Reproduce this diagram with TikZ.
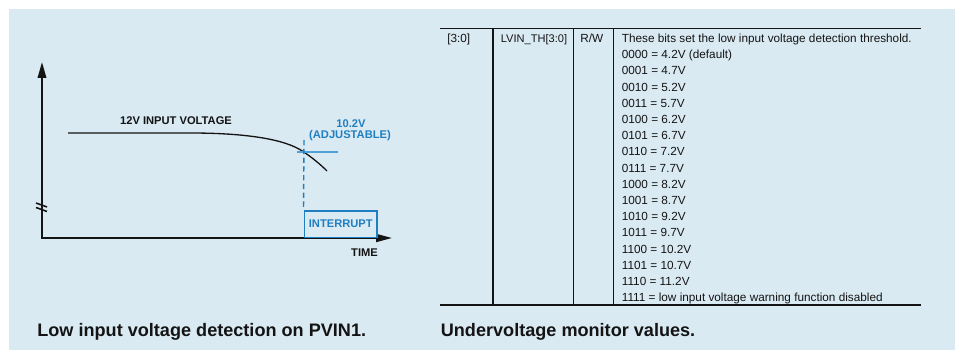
\documentclass[tikz,border=0pt]{standalone}
\usepackage{fontspec}
\setmainfont{Liberation Sans}
\usetikzlibrary{arrows.meta}
\definecolor{ink}{HTML}{141414}
\definecolor{panel}{HTML}{DAEAF3}
\definecolor{blue}{HTML}{1F7FC0}
\definecolor{blueLight}{HTML}{4EA2D6}

\begin{document}
\begin{tikzpicture}[
    x=0.02cm, y=-0.02cm,
    font=\fontsize{6.7}{8}\selectfont,
    axis/.style={
        draw=ink,
        line width=1.1pt,
        {Triangle[length=0.32cm,width=0.17cm]}-{Triangle[length=0.32cm,width=0.16cm]}
    },
    signal/.style={draw=ink, line width=0.75pt},
    chartLabel/.style={font=\fontsize{6.35}{7.5}\selectfont\bfseries, inner sep=0pt},
    blueLabel/.style={chartLabel, text=blue},
    cell/.style={anchor=base west, inner sep=0pt, text=ink},
    caption/.style={anchor=base west, inner sep=0pt, font=\fontsize{10.3}{12}\selectfont\bfseries, text=ink},
    thickRule/.style={draw=ink, line width=1.1pt},
    thinRule/.style={draw=ink, line width=0.45pt}
]

% Page and panel background.
\fill[white] (0,0) rectangle (955,350);
\fill[panel] (9,9) rectangle (955,350);

% Left: input voltage over time.
\coordinate (origin) at (42,238);
\coordinate (yTip) at (42,62);
\coordinate (xTip) at (392,238);
\draw[axis] (yTip) -- (origin) -- (xTip);
\draw[ink, line width=0.9pt] (36,203) -- (47,207) (36,207.5) -- (47,211.5);

\draw[signal] (68,133) -- (190,133)
    .. controls (245,133) and (285,139) .. (303,151.5)
    .. controls (312,157.5) and (320,164) .. (327,171);

\node[chartLabel, text=ink] (inputLabel) at (176,121) {12V INPUT VOLTAGE};
\node[blueLabel] (levelLabel) at (351,123.5) {10.2V};
\node[blueLabel] (adjLabel) at (350,136) {(ADJUSTABLE)};

\coordinate (thrLeft) at (297,152);
\coordinate (thrRight) at (338,152);
\draw[blueLight, line width=0.6pt] (thrLeft) -- (thrRight);

\node[draw=blue, line width=0.9pt, anchor=south west, minimum width=1.46cm,
      minimum height=0.54cm, inner sep=0pt, font=\fontsize{6.35}{7.5}\selectfont\bfseries,
      text=blue] (interrupt) at (303.5,238.5) {INTERRUPT};
\coordinate (dashTop) at (304,140);
\draw[blue, line width=0.8pt, dash pattern=on 3pt off 2pt] (dashTop) -- (interrupt.north west);

\node[chartLabel, text=ink] (timeLabel) at (364.5,253) {TIME};

\node[caption] (capLeft) at (37,336.7) {Low input voltage detection on PVIN1.};

% Right: register field table.
\coordinate (topL) at (440,28.5);
\coordinate (topR) at (921,28.5);
\coordinate (botL) at (440,305);
\coordinate (botR) at (921,305);
\draw[thickRule] (topL) -- (topR);
\draw[thickRule] (botL) -- (botR);
\draw[draw=ink, line width=0.75pt] (493,28.5) -- (493,305);
\draw[thinRule] (573,28.5) -- (573,305);
\draw[thinRule] (613,28.5) -- (613,305);

\node[cell] (bits) at (447,42.5) {[3:0]};
\node[cell, font=\fontsize{6.3}{8}\selectfont] (field) at (500.5,42.5) {LVIN\_TH[3:0]};
\node[cell] (access) at (580,42.5) {R/W};
\node[cell] (desc0) at (621.5,42.5) {These bits set the low input voltage detection threshold.};

\foreach \code/\volt [count=\i] in {0000/4.2V (default), 0001/4.7V, 0010/5.2V, 0011/5.7V,
        0100/6.2V, 0101/6.7V, 0110/7.2V, 0111/7.7V, 1000/8.2V, 1001/8.7V, 1010/9.2V,
        1011/9.7V, 1100/10.2V, 1101/10.7V, 1110/11.2V,
        1111/low input voltage warning function disabled}
    \node[cell] (desc\i) at (621.5,42.5+16.2*\i) {\code{} = \volt};

\node[caption] (capRight) at (440.5,336.7) {Undervoltage monitor values.};

\end{tikzpicture}
\end{document}
